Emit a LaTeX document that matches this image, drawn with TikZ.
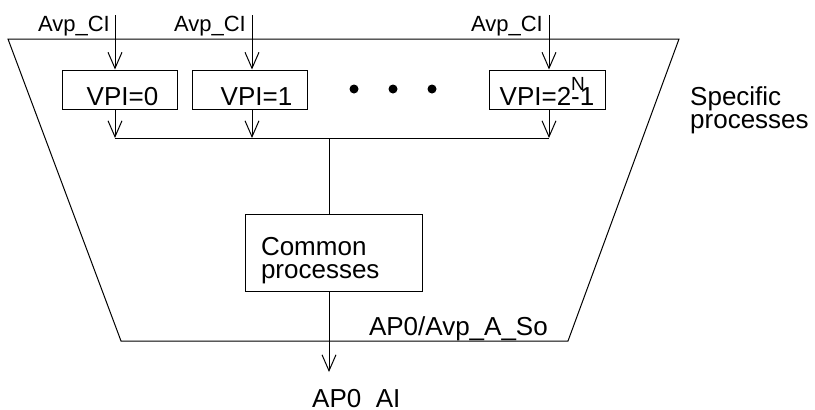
\documentclass[tikz,border=0pt]{standalone}
\usepackage{fontspec}
\setmainfont{Liberation Sans}
\usetikzlibrary{arrows.meta}

\begin{document}
\begin{tikzpicture}[x=1pt,y=-1pt,
  every node/.style={font=\fontsize{26}{23}\selectfont, inner sep=0pt},
  proc/.style={draw, line width=1pt, text height=35pt, text depth=4pt},
  flow/.style={line width=1pt, -{Straight Barb[length=16pt,width=14pt]}},
  sig/.style={font=\fontsize{22}{22}\selectfont, anchor=base east}]

  \useasboundingbox (0,0) rectangle (815,410);
  \clip (0,0) rectangle (815,410);

  %--- outer trapezoid
  \draw[line width=1pt] (8,39) -- (679,39) -- (568,341) -- (121,341) -- cycle;

  %--- specific processes
  \node[proc, minimum width=115pt] (v0) at (119.5,89.5) {\hspace*{6pt}VPI=0};
  \node[proc, minimum width=115pt] (v1) at (249.5,89.5) {\hspace*{14pt}VPI=1};
  \node[proc, minimum width=116pt] (vn) at (547,89.5)
    {VPI=2\rlap{\raisebox{15pt}{\fontsize{19}{19}\selectfont N}}-1};
  \foreach \x in {354,393,432}
    \fill (\x,89) circle (4.5);

  % inputs from the top
  \coordinate (in0) at (115,15);
  \coordinate (in1) at (252,15);
  \coordinate (inn) at (549,15);
  \draw[flow] (in0) -- (in0 |- v0.north);
  \draw[flow] (in1) -- (in1 |- v1.north);
  \draw[flow] (inn) -- (inn |- vn.north);
  \node[sig] (ci0) at (110,31) {Avp\_CI};
  \node[sig] (ci1) at (246,31) {Avp\_CI};
  \node[sig] (cin) at (543,31) {Avp\_CI};

  % collecting bus
  \coordinate (j0) at (115,138);
  \coordinate (j1) at (252,138);
  \coordinate (jn) at (549,138);
  \draw[flow] (v0.south -| j0) -- (j0);
  \draw[flow] (v1.south -| j1) -- (j1);
  \draw[flow] (vn.south -| jn) -- (jn);
  \draw[line width=1pt] (j0) -- (jn);

  %--- common processes
  \node[proc, text height=, text depth=, minimum width=177pt, minimum height=77pt,
        text width=145pt, align=left] (cp) at (333.5,252.5)
    {\rule{0pt}{34pt}Common\\processes};
  \coordinate (tap) at (329,138);
  \coordinate (out) at (329,372);
  \draw[line width=1pt] (tap) -- (tap |- cp.north);
  \draw[flow] (tap |- cp.south) -- (out);

  %--- labels
  \node[align=left, anchor=west] (sp) at (690,110.7) {Specific\\processes};
  \node[anchor=base east] (so) at (548,335) {AP0/Avp\_A\_So};
  \node[anchor=base west] (ai) at (312,407) {AP0\_AI};

\end{tikzpicture}
\end{document}
